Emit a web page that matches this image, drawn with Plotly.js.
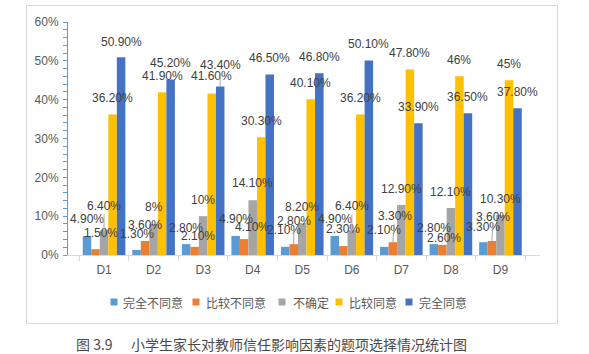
<!DOCTYPE html>
<html>
<head>
<meta charset="utf-8">
<script src="https://cdn.plot.ly/plotly-3.0.1.min.js"></script>
<style>
html,body{margin:0;padding:0;background:#ffffff;}
#chart{width:589px;height:354px;}
</style>
</head>
<body>
<div id="chart"></div>
<script>
// ---------------- data ----------------
const categories = ['D1','D2','D3','D4','D5','D6','D7','D8','D9'];
const seriesNames = ['完全不同意','比较不同意','不确定','比较同意','完全同意'];
const stronglyDisagree = [4.9, 1.3, 2.8, 4.9, 2.1, 4.9, 2.1, 2.8, 3.3];
const disagree         = [1.5, 3.6, 2.1, 4.1, 2.8, 2.3, 3.3, 2.6, 3.6];
const unsure           = [6.4, 8, 10, 14.1, 8.2, 6.4, 12.9, 12.1, 10.3];
const agree            = [36.2, 41.9, 41.6, 30.3, 40.1, 36.2, 47.8, 46, 45];
const stronglyAgree    = [50.9, 45.2, 43.4, 46.5, 46.8, 50.1, 33.9, 36.5, 37.8];
const yTickValues = [0, 10, 20, 30, 40, 50, 60];
const captionNumber = '图 3.9';
const captionText = '小学生家长对教师信任影响因素的题项选择情况统计图';

// ---------------- styles ----------------
const seriesValues = [stronglyDisagree, disagree, unsure, agree, stronglyAgree];
const seriesColors = ['#5B9BD5', '#ED7D31', '#A5A5A5', '#FFC000', '#4472C4'];
// data label offsets in pixels (relative to the top centre of each bar)
const labelDx = [
  [0, 0, 0, 0, -1, 0, 0, 0, 0],
  [5.5, 0, 3.5, 7.5, 0, 0, 2, 1.7, 1],
  [0, 0, 0, 0, 0, 0, 0, 0, 0],
  [0, 0, 0, 0, 0, 0, 0, 0, 0],
  [0, 0, 0, 0, 0, 0, 0, 0, 0]
];
const labelDy = [
  [-17, -16, -16, -17, -17, -17, -17, -16, -15.5],
  [-16, -16, -11, -12, -23, -17, -26.5, -6.6, -24],
  [-24, -17, -16, -17, -16, -24, -16, -16, -16],
  [-16.5, -16, -17, -16.7, -16.7, -16, -16, -16.5, -16.4],
  [-15.5, -16, -21.5, -16, -16.7, -16, -16, -16, -16]
];
const labelLeader = [
  [0,0,0,0,0,0,0,0,0],
  [0,0,0,0,1,0,1,0,1],
  [1,0,0,0,0,1,0,0,0],
  [0,0,0,0,0,0,0,0,0],
  [0,0,1,0,0,0,0,0,0]
];

const W = 589, H = 354;
const M = {l: 68, r: 49, t: 22, b: 99};
const plotW = W - M.l - M.r, plotH = H - M.t - M.b;
const px2x = p => (p - M.l) / plotW;
const py2y = p => (H - M.b - p) / plotH;

const BARGAP = 0.14;
const barUnit = (1 - BARGAP) / seriesValues.length;

const latinFont = 'Liberation Sans, Arial, sans-serif';
const cjkFont = 'Noto Sans CJK SC, Liberation Sans, sans-serif';

function fmt(v) {
  return Number.isInteger(v) ? v + '%' : v.toFixed(2) + '%';
}

// ---------------- traces ----------------
const traces = seriesValues.map((vals, j) => ({
  type: 'bar',
  name: seriesNames[j],
  x: categories,
  y: vals,
  marker: {color: seriesColors[j]},
  showlegend: false,
  hoverinfo: 'skip'
}));

// ---------------- annotations ----------------
const annotations = [];
seriesValues.forEach((vals, j) => {
  vals.forEach((v, i) => {
    const xPos = i + (j - (seriesValues.length - 1) / 2) * barUnit;
    const dx = labelDx[j][i], dy = labelDy[j][i];
    const lead = !!labelLeader[j][i];
    const a = {
      x: xPos, y: v, xref: 'x', yref: 'y',
      text: fmt(v),
      font: {family: latinFont, size: 12, color: '#404040'},
      showarrow: lead
    };
    if (lead) {
      Object.assign(a, {ax: dx, ay: dy, arrowhead: 0, arrowwidth: 1, arrowcolor: '#A6A6A6', standoff: 0});
    } else {
      Object.assign(a, {xshift: dx, yshift: -dy});
    }
    annotations.push(a);
  });
});

// manual legend (Excel-like compact layout)
const legendMarkerLeft = [110.5, 192.5, 278.5, 335.5, 405.5];
const legendTextLeft = [121, 204, 291, 347, 417];
const legendY = 302;
const shapes = [];
seriesNames.forEach((name, j) => {
  shapes.push({
    type: 'rect', xref: 'paper', yref: 'paper',
    x0: px2x(legendMarkerLeft[j]), x1: px2x(legendMarkerLeft[j] + 7),
    y0: py2y(legendY + 3.5), y1: py2y(legendY - 3.5),
    fillcolor: seriesColors[j], line: {width: 0}
  });
  annotations.push({
    xref: 'paper', yref: 'paper',
    x: px2x(legendTextLeft[j]), y: py2y(legendY),
    xanchor: 'left', yanchor: 'middle',
    text: name, showarrow: false,
    font: {family: cjkFont, size: 12, color: '#595959'}
  });
});

// chart frame
shapes.push({
  type: 'rect', xref: 'paper', yref: 'paper', layer: 'below',
  x0: px2x(26.5), x1: px2x(557.5), y0: py2y(323.5), y1: py2y(5.5),
  line: {color: '#D9D9D9', width: 1}, fillcolor: 'rgba(0,0,0,0)'
});

// caption
annotations.push({
  xref: 'paper', yref: 'paper', x: px2x(74), y: py2y(344),
  xanchor: 'left', yanchor: 'middle', showarrow: false,
  text: captionNumber,
  font: {family: cjkFont, size: 14, color: '#4a4a4a'}
});
annotations.push({
  xref: 'paper', yref: 'paper', x: px2x(129), y: py2y(344),
  xanchor: 'left', yanchor: 'middle', showarrow: false,
  text: captionText,
  font: {family: cjkFont, size: 14, color: '#4a4a4a'}
});

// ---------------- layout ----------------
const layout = {
  width: W, height: H,
  margin: M,
  paper_bgcolor: '#ffffff',
  plot_bgcolor: '#ffffff',
  barmode: 'group',
  bargap: BARGAP,
  bargroupgap: 0,
  showlegend: false,
  xaxis: {
    type: 'category',
    showgrid: false,
    zeroline: false,
    showline: true,
    linecolor: '#D9D9D9',
    linewidth: 1,
    ticks: 'outside',
    tickson: 'boundaries',
    ticklen: 5,
    tickcolor: '#D9D9D9',
    ticklabelstandoff: 4,
    tickfont: {family: latinFont, size: 12, color: '#595959'}
  },
  yaxis: {
    range: [0, 60],
    tickvals: yTickValues,
    ticktext: yTickValues.map(v => v + '%'),
    showgrid: false,
    zeroline: false,
    showline: true,
    linecolor: '#5B9BD5',
    linewidth: 1,
    ticks: 'outside',
    ticklen: 4,
    tickcolor: '#5B9BD5',
    ticklabelstandoff: 2,
    minor: {dtick: 2, ticks: 'outside', ticklen: 4, tickcolor: '#5B9BD5', showgrid: false},
    tickfont: {family: latinFont, size: 12, color: '#595959'}
  },
  annotations: annotations,
  shapes: shapes
};

Plotly.newPlot('chart', traces, layout, {displayModeBar: false, staticPlot: true});
</script>
</body>
</html>
